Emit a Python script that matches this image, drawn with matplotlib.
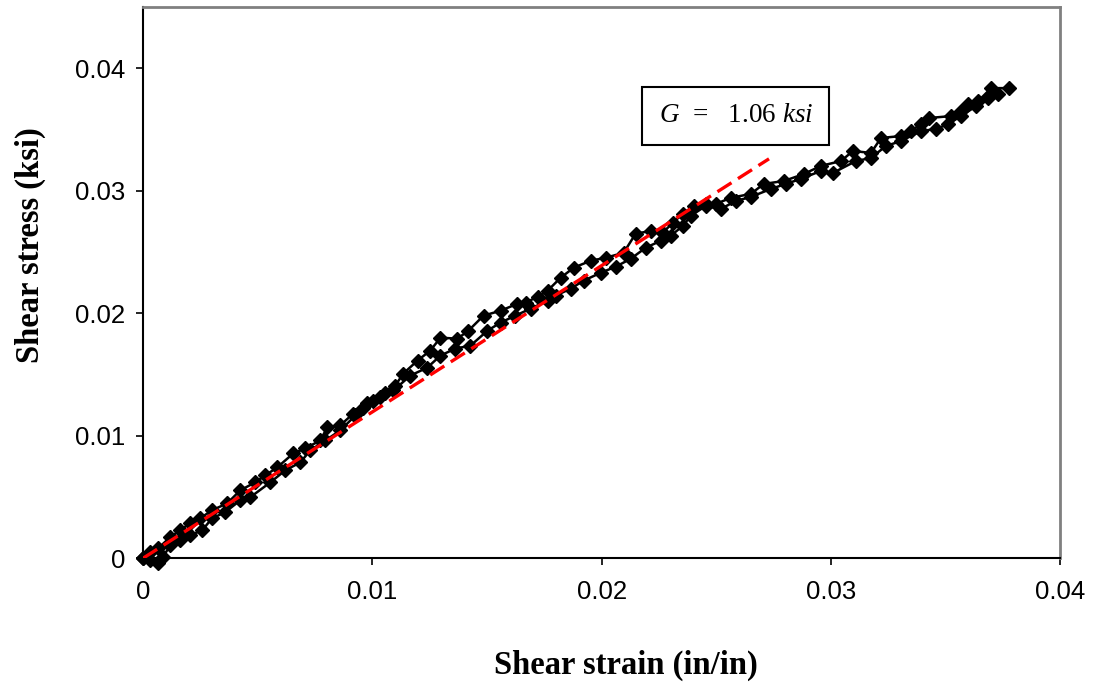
import matplotlib
matplotlib.use("Agg")
import matplotlib.pyplot as plt

plt.rcParams['mathtext.fontset'] = 'custom'
plt.rcParams['mathtext.it'] = 'Liberation Serif:italic'
plt.rcParams['mathtext.rm'] = 'Liberation Serif'

# loading pass (upper branch)
strain_up = [0, 0.00031, 0.00066, 0.00118, 0.00162, 0.00205, 0.00249, 0.00301, 0.00367, 0.00424,
             0.00489, 0.00533, 0.00585, 0.00655, 0.00707, 0.00773, 0.00803, 0.00860, 0.00917, 0.00961,
             0.01004, 0.01057, 0.01100, 0.01135, 0.01197, 0.01253, 0.01297, 0.01371, 0.01419, 0.01485,
             0.01559, 0.01633, 0.01668, 0.01721, 0.01764, 0.01821, 0.01878, 0.01952, 0.02017, 0.02096,
             0.02148, 0.02214, 0.02266, 0.02310, 0.02354, 0.02402, 0.02454, 0.02498, 0.02563, 0.02651,
             0.02707, 0.02795, 0.02882, 0.02956, 0.03044, 0.03096, 0.03175, 0.03218, 0.03306, 0.03349,
             0.03393, 0.03428, 0.03524, 0.03568, 0.03598, 0.03642, 0.03699, 0.03777]
stress_up = [0, 0.00049, 0.00081, 0.00171, 0.00228, 0.00285, 0.00326, 0.00391, 0.00448, 0.00554,
             0.00619, 0.00676, 0.00741, 0.00855, 0.00896, 0.00961, 0.01067, 0.01084, 0.01181, 0.01230,
             0.01287, 0.01352, 0.01409, 0.01507, 0.01613, 0.01695, 0.01800, 0.01792, 0.01857, 0.01980,
             0.02020, 0.02077, 0.02086, 0.02134, 0.02183, 0.02289, 0.02371, 0.02428, 0.02452, 0.02493,
             0.02648, 0.02672, 0.02656, 0.02737, 0.02811, 0.02876, 0.02892, 0.02892, 0.02941, 0.02974,
             0.03055, 0.03079, 0.03136, 0.03202, 0.03242, 0.03324, 0.03308, 0.03430, 0.03446, 0.03487,
             0.03544, 0.03593, 0.03609, 0.03650, 0.03707, 0.03731, 0.03837, 0.03837]

# unloading pass (lower branch)
strain_dn = [0.03729, 0.03686, 0.03633, 0.03568, 0.03511, 0.03459, 0.03393, 0.03306, 0.03240, 0.03175,
             0.03109, 0.03009, 0.02956, 0.02869, 0.02803, 0.02738, 0.02651, 0.02585, 0.02520, 0.02454,
             0.02389, 0.02354, 0.02301, 0.02258, 0.02192, 0.02127, 0.02061, 0.01996, 0.01921, 0.01865,
             0.01799, 0.01764, 0.01690, 0.01624, 0.01559, 0.01502, 0.01428, 0.01362, 0.01297, 0.01240,
             0.01166, 0.01092, 0.01035, 0.00978, 0.00926, 0.00860, 0.00795, 0.00729, 0.00686, 0.00620,
             0.00555, 0.00467, 0.00424, 0.00358, 0.00301, 0.00258, 0.00205, 0.00162, 0.00118, 0.00087,
             0.00066, 0.00031, 0]
stress_dn = [0.03788, 0.03756, 0.03690, 0.03609, 0.03544, 0.03503, 0.03487, 0.03405, 0.03365, 0.03267,
             0.03242, 0.03145, 0.03161, 0.03096, 0.03055, 0.03014, 0.02949, 0.02916, 0.02851, 0.02876,
             0.02794, 0.02713, 0.02631, 0.02591, 0.02534, 0.02444, 0.02379, 0.02330, 0.02265, 0.02200,
             0.02143, 0.02102, 0.02037, 0.01980, 0.01923, 0.01857, 0.01735, 0.01711, 0.01654, 0.01556,
             0.01491, 0.01369, 0.01312, 0.01263, 0.01165, 0.01043, 0.00961, 0.00880, 0.00782, 0.00717,
             0.00619, 0.00497, 0.00473, 0.00375, 0.00326, 0.00228, 0.00187, 0.00147, 0.00106, 0.00008,
             -0.00041, -0.00016, 0]

# linear fit, G = 1.06 ksi label
fit_strain = [0, 0.0273]
fit_stress = [0, 0.0326]

fig = plt.figure(figsize=(11.09, 6.90), dpi=100)
ax = fig.add_axes([0.129, 0.191, 0.827, 0.799])

mk = dict(color='black', marker='D', markersize=7, linewidth=1.8, clip_on=False)
ax.plot(strain_up, stress_up, **mk)
ax.plot(strain_dn, stress_dn, **mk)
ax.plot(fit_strain, fit_stress, color='#ff0000', linewidth=2.4, linestyle=(0, (5, 2.3)), zorder=5)

ax.set_xlim(0, 0.04)
ax.set_ylim(0, 0.045)
ax.set_xticks([0, 0.01, 0.02, 0.03, 0.04])
ax.set_xticklabels(['0', '0.01', '0.02', '0.03', '0.04'])
ax.set_yticks([0, 0.01, 0.02, 0.03, 0.04])
ax.set_yticklabels(['0', '0.01', '0.02', '0.03', '0.04'])
ax.tick_params(axis='both', direction='out', length=5, width=1.2, labelsize=18.5)
ax.tick_params(axis='x', pad=11)
ax.tick_params(axis='y', pad=8)
for lab in ax.get_xticklabels() + ax.get_yticklabels():
    lab.set_fontfamily('Liberation Sans')

for s in ['top', 'right']:
    ax.spines[s].set_color('#808080')
    ax.spines[s].set_linewidth(2)
for s in ['left', 'bottom']:
    ax.spines[s].set_color('black')
    ax.spines[s].set_linewidth(1.5)

fig.text(0.564, 0.036, 'Shear strain (in/in)', ha='center', va='center',
         fontfamily='Liberation Serif', fontweight='bold', fontsize=23.5)
fig.text(0.027, 0.645, 'Shear stress (ksi)', ha='center', va='center', rotation=90,
         fontfamily='Liberation Serif', fontweight='bold', fontsize=23.5)

ax.text(0.02585, 0.0361, r'$G$  =   1.06 $ksi$', ha='center', va='center',
        fontfamily='Liberation Serif', fontsize=19.5,
        bbox=dict(boxstyle='square,pad=0.6', facecolor='white', edgecolor='black', linewidth=1.5))

fig.savefig('out.png', dpi=100)
